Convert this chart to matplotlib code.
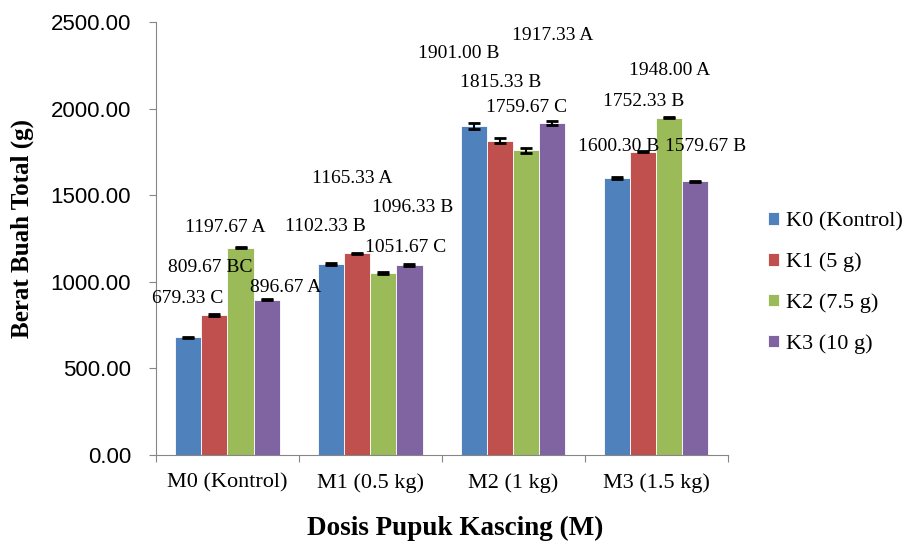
import matplotlib.pyplot as plt
import numpy as np

groups = ["M0 (Kontrol)", "M1 (0.5 kg)", "M2 (1 kg)", "M3 (1.5 kg)"]
series = ["K0 (Kontrol)", "K1 (5 g)", "K2 (7.5 g)", "K3 (10 g)"]
colors = ["#4F81BD", "#C0504D", "#9BBB59", "#8064A2"]

# rows = series (K), columns = groups (M)
values = np.array([
    [679.33, 1102.33, 1901.00, 1600.30],
    [809.67, 1165.33, 1815.33, 1752.33],
    [1197.67, 1051.67, 1759.67, 1948.00],
    [896.67, 1096.33, 1917.33, 1579.67],
])
errors = np.array([
    [4, 4, 16, 4],
    [4, 4, 14, 4],
    [4, 4, 14, 4],
    [4, 4, 14, 4],
])
letters = [
    ["C", "B", "B", "B"],
    ["BC", "A", "B", "B"],
    ["A", "C", "C", "A"],
    ["A", "B", "A", "B"],
]
# where each value label sits (x in group units, y in data units)
label_x = [
    [-0.276, 0.682, 1.619, 2.735],
    [-0.122, 0.871, 1.913, 2.913],
    [-0.017, 1.248, 2.094, 3.094],
    [0.409, 1.297, 2.276, 3.345],
]
label_y = [
    [906, 1322, 2321, 1784],
    [1080, 1594, 2153, 2044],
    [1311, 1201, 2009, 2223],
    [970, 1432, 2425, 1784],
]

serif = "Liberation Serif"
fig = plt.figure(figsize=(9.15, 5.45), dpi=100)
ax = fig.add_axes([0.1705, 0.165, 0.625, 0.7946])

x = np.arange(len(groups))
w = 0.182
for i, name in enumerate(series):
    ax.bar(x + (i - 1.5) * w, values[i], w, color=colors[i], edgecolor="white",
           linewidth=0.6, label=name,
           yerr=errors[i], error_kw=dict(ecolor="black", elinewidth=1.5,
                                         capsize=4, capthick=2))
    for j in range(len(groups)):
        ax.text(label_x[i][j], label_y[i][j], f"{values[i][j]:.2f} {letters[i][j]}",
                ha="center", va="center", fontsize=14, family=serif)

ax.set_xlim(-0.5, 3.5)
ax.set_ylim(0, 2500)
ax.set_yticks(np.arange(0, 2501, 500))
ax.set_yticklabels([f"{v:.2f}" for v in np.arange(0, 2501, 500)],
                   fontsize=16, family="Liberation Sans")
ax.set_xticks(np.arange(-0.5, 3.6, 1))
ax.set_xticklabels([])
ax.set_xticks(x, minor=True)
ax.set_xticklabels(groups, minor=True, fontsize=16, family=serif)
ax.tick_params(axis="x", which="minor", length=0, pad=13)
ax.tick_params(axis="both", which="major", color="#868686", length=5)
ax.tick_params(axis="y", pad=13)
for s in ["top", "right"]:
    ax.spines[s].set_visible(False)
for s in ["left", "bottom"]:
    ax.spines[s].set_color("#868686")

fig.text(22 / 915, 1 - 228 / 545, "Berat Buah Total (g)", rotation=90,
         ha="center", va="center", fontsize=18, fontweight="bold", family=serif)
fig.text(455 / 915, 1 - 528 / 545, "Dosis Pupuk Kascing (M)",
         ha="center", va="center", fontsize=19.5, fontweight="bold", family=serif)

fig.legend(loc="center left", bbox_to_anchor=(768 / 915, 1 - 283 / 545),
           frameon=False, prop={"family": serif, "size": 16}, handlelength=0.5,
           handleheight=0.5, handletextpad=0.3, labelspacing=0.95,
           borderpad=0, borderaxespad=0)

fig.savefig("out.png", dpi=100)
